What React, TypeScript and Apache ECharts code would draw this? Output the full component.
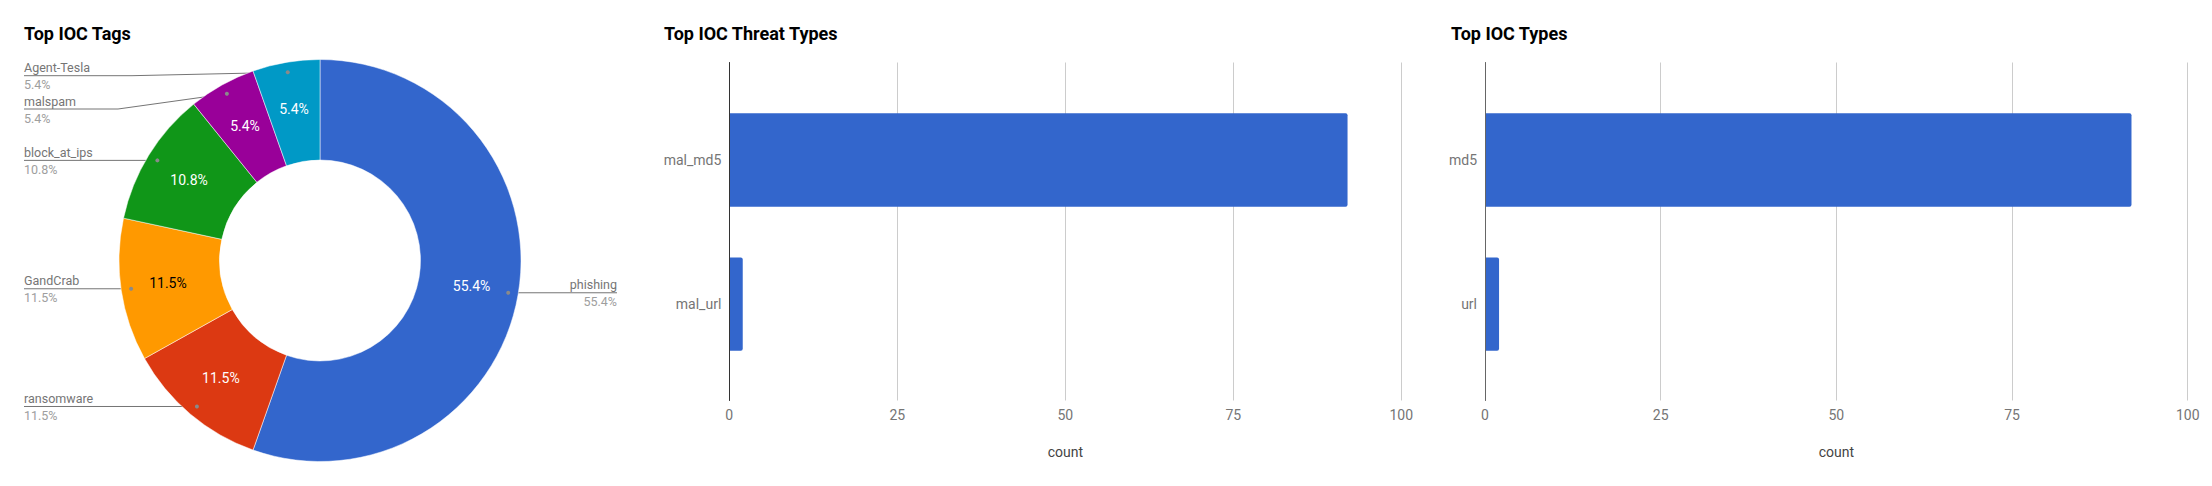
import React, { useEffect, useRef } from "react";
import * as echarts from "echarts";

// ---------- data ----------
const tagNames = ["phishing", "ransomware", "GandCrab", "block_at_ips", "malspam", "Agent-Tesla"];
const tagCounts = [82, 17, 17, 16, 8, 8];
const tagColors = ["#3366cc", "#dc3912", "#ff9900", "#109618", "#990099", "#0099c6"];
const tagInnerTextColors = ["#ffffff", "#ffffff", "#000000", "#ffffff", "#ffffff", "#ffffff"];

const threatTypeNames = ["mal_md5", "mal_url"];
const threatTypeCounts = [92, 2];

const iocTypeNames = ["md5", "url"];
const iocTypeCounts = [92, 2];

const countAxisMin = 0;
const countAxisMax = 100;
const countAxisInterval = 25;

const titles = ["Top IOC Tags", "Top IOC Threat Types", "Top IOC Types"];

// ---------- layout ----------
const W = 2212;
const H = 486;
const PIE_CX = 320;
const PIE_CY = 260.5;
const PIE_R0 = 100.5;
const PIE_R = 201;
const DOT_R = PIE_R * 0.95;
const LEFT_LABEL_X = 24;
const RIGHT_LABEL_X = 617;
const LABEL_MIN_Y = 75.7;
const LABEL_GAP = 33.3;
const BEND_EXTRA = 42;

const PLOT_TOP = 62.5;
const PLOT_BOTTOM = H - 400.5;
const BAND_TOP = 87.9;
const BAND_BOTTOM = H - 376.3;

const FONT = "Roboto, 'Noto Sans', Arial, sans-serif";

function pieGeometry() {
  const total = tagCounts.reduce((a, b) => a + b, 0);
  let acc = 0;
  const dots = tagCounts.map((v) => {
    const a0 = (acc / total) * 2 * Math.PI;
    acc += v;
    const a1 = (acc / total) * 2 * Math.PI;
    const m = (a0 + a1) / 2;
    return {
      x: PIE_CX + DOT_R * Math.sin(m),
      y: PIE_CY - DOT_R * Math.cos(m),
      left: Math.sin(m) < 0,
    };
  });
  const lineY = dots.map((d) => d.y);
  const leftIdx = dots
    .map((_, i) => i)
    .filter((i) => dots[i].left)
    .sort((a, b) => dots[a].y - dots[b].y);
  let prev = -Infinity;
  for (const i of leftIdx) {
    const y = Math.max(dots[i].y, prev + LABEL_GAP, LABEL_MIN_Y);
    lineY[i] = y;
    prev = y;
  }
  return { dots, lineY };
}

function barBlock(
  gridStart: number,
  left: number,
  right: number,
  cats: string[],
  vals: number[],
  axisColor: string
) {
  const grids = [
    { left, right, top: PLOT_TOP, bottom: PLOT_BOTTOM, containLabel: false },
    { left, right, top: BAND_TOP, bottom: BAND_BOTTOM, containLabel: false },
  ];
  const xAxes = [
    {
      gridIndex: gridStart,
      type: "value",
      min: countAxisMin,
      max: countAxisMax,
      interval: countAxisInterval,
      splitLine: { show: true, lineStyle: { color: "#cccccc", width: 1 } },
      axisLine: { show: false },
      axisTick: { show: false },
      axisLabel: { color: "#757575", fontSize: 14, margin: 7.5, fontFamily: FONT },
      name: "count",
      nameLocation: "middle",
      nameGap: 44,
      nameTextStyle: { color: "#444444", fontSize: 14, fontFamily: FONT },
    },
    {
      gridIndex: gridStart + 1,
      type: "value",
      min: countAxisMin,
      max: countAxisMax,
      show: false,
    },
  ];
  const yAxes = [
    {
      gridIndex: gridStart,
      type: "value",
      min: 0,
      max: 1,
      z: 5,
      axisLine: { show: true, onZero: false, lineStyle: { color: axisColor, width: 1 } },
      axisTick: { show: false },
      axisLabel: { show: false },
      splitLine: { show: false },
    },
    {
      gridIndex: gridStart + 1,
      type: "category",
      data: cats,
      inverse: true,
      axisLine: { show: false },
      axisTick: { show: false },
      splitLine: { show: false },
      axisLabel: { color: "#757575", fontSize: 14, margin: 8, fontFamily: FONT },
    },
  ];
  const series = {
    type: "bar",
    xAxisIndex: gridStart + 1,
    yAxisIndex: gridStart + 1,
    data: vals,
    barWidth: "64.7%",
    itemStyle: { color: "#3366cc", borderRadius: [0, 2, 2, 0] },
    z: 2,
  };
  return { grids, xAxes, yAxes, series };
}

export default function App() {
  const ref = useRef<HTMLDivElement>(null);

  useEffect(() => {
    if (!ref.current) return;
    const chart = echarts.init(ref.current, null, { renderer: "svg" });
    const { dots, lineY } = pieGeometry();

    const b1 = barBlock(0, 729.3, W - 1401.3, threatTypeNames, threatTypeCounts, "#333333");
    const b2 = barBlock(2, 1485, W - 2187.7, iocTypeNames, iocTypeCounts, "#666666");

    const pieData = tagNames.map((n, i) => ({
      name: n,
      value: tagCounts[i],
      itemStyle: { color: tagColors[i] },
      label: { color: tagInnerTextColors[i] },
    }));
    const pieDataOuter = tagNames.map((n, i) => ({ name: n, value: tagCounts[i] }));

    const option: any = {
      animation: false,
      textStyle: { fontFamily: FONT },
      title: [
        { text: titles[0], left: 24, top: 24 },
        { text: titles[1], left: 664, top: 24 },
        { text: titles[2], left: 1451, top: 24 },
      ].map((t) => ({
        ...t,
        padding: 0,
        textStyle: { fontFamily: FONT, fontWeight: "bold", fontSize: 18, color: "#000000" },
      })),
      grid: [...b1.grids, ...b2.grids],
      xAxis: [...b1.xAxes, ...b2.xAxes],
      yAxis: [...b1.yAxes, ...b2.yAxes],
      series: [
        {
          type: "pie",
          center: [PIE_CX, PIE_CY],
          radius: [PIE_R0, PIE_R],
          startAngle: 90,
          clockwise: true,
          percentPrecision: 1,
          avoidLabelOverlap: false,
          silent: true,
          itemStyle: { borderColor: "#ffffff", borderWidth: 0.5 },
          label: {
            show: true,
            position: "inside",
            formatter: "{d}%",
            fontSize: 14,
            fontFamily: FONT,
          },
          labelLine: { show: false },
          data: pieData,
        },
        {
          type: "pie",
          center: [PIE_CX, PIE_CY],
          radius: [PIE_R0, PIE_R],
          startAngle: 90,
          clockwise: true,
          percentPrecision: 1,
          avoidLabelOverlap: false,
          silent: true,
          itemStyle: { color: "rgba(0,0,0,0)" },
          label: {
            show: true,
            position: "outside",
            formatter: "{n|{b}}\n{p|{d}%}",
            rich: {
              n: { color: "#757575", fontSize: 12.5, lineHeight: 17, fontFamily: FONT },
              p: { color: "#9e9e9e", fontSize: 12.5, lineHeight: 17, fontFamily: FONT },
            },
          },
          labelLine: { show: true, smooth: false, lineStyle: { color: "#757575", width: 1 } },
          labelLayout: (params: any) => {
            const i = params.dataIndex;
            const d = dots[i];
            const ly = lineY[i];
            if (d.left) {
              const w = params.labelRect ? params.labelRect.width : 60;
              const pts =
                Math.abs(ly - d.y) < 0.5
                  ? [
                      [d.x, d.y],
                      [LEFT_LABEL_X, ly],
                    ]
                  : [
                      [d.x, d.y],
                      [LEFT_LABEL_X + w + BEND_EXTRA, ly],
                      [LEFT_LABEL_X, ly],
                    ];
              return {
                x: LEFT_LABEL_X,
                y: ly + 0.5,
                align: "left",
                verticalAlign: "middle",
                labelLinePoints: pts,
              };
            }
            return {
              x: RIGHT_LABEL_X,
              y: ly + 0.5,
              align: "right",
              verticalAlign: "middle",
              labelLinePoints: [
                [d.x, d.y],
                [RIGHT_LABEL_X, ly],
              ],
            };
          },
          data: pieDataOuter,
        },
        b1.series,
        b2.series,
      ],
      graphic: dots.map((d) => ({
        type: "circle",
        shape: { cx: d.x, cy: d.y, r: 2 },
        style: { fill: "#8a8a8a" },
        z: 100,
        silent: true,
      })),
    };

    chart.setOption(option);
    return () => chart.dispose();
  }, []);

  return (
    <div
      ref={ref}
      style={{ position: "absolute", left: 0, top: 0, width: W, height: H, background: "#ffffff" }}
    />
  );
}
